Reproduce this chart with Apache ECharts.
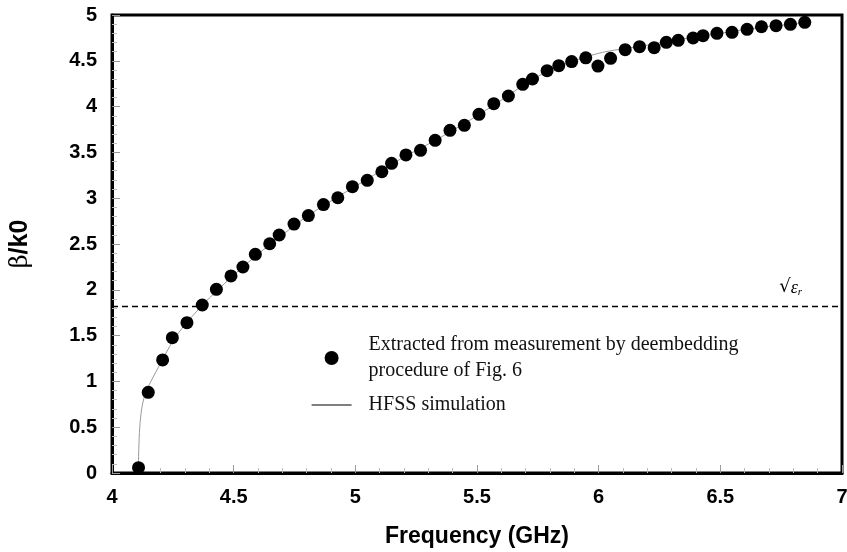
<!DOCTYPE html>
<html>
<head>
<meta charset="utf-8">
<script src="https://cdn.jsdelivr.net/npm/echarts@6/dist/echarts.min.js"></script>
<style>
  html, body { margin: 0; padding: 0; background: #fff; }
  #chart { width: 847px; height: 552px; }
</style>
</head>
<body>
<div id="chart"></div>
<script>
// measured beta/k0 (extracted by deembedding)
const freqMeas = [4.109, 4.149, 4.208, 4.248, 4.308, 4.371, 4.429, 4.489, 4.538, 4.589,
  4.648, 4.687, 4.748, 4.807, 4.869, 4.928, 4.988, 5.049, 5.109, 5.149,
  5.208, 5.268, 5.328, 5.389, 5.448, 5.508, 5.569, 5.629, 5.688, 5.728,
  5.788, 5.836, 5.889, 5.947, 5.997, 6.049, 6.109, 6.168, 6.228, 6.278,
  6.327, 6.388, 6.429, 6.486, 6.548, 6.610, 6.669, 6.729, 6.788, 6.847];
const betaMeas = [0.058, 0.881, 1.234, 1.477, 1.641, 1.834, 2.005, 2.151, 2.249, 2.387,
  2.503, 2.598, 2.718, 2.810, 2.930, 3.005, 3.126, 3.195, 3.289, 3.381,
  3.472, 3.523, 3.632, 3.741, 3.796, 3.916, 4.032, 4.116, 4.243, 4.301,
  4.392, 4.447, 4.492, 4.532, 4.442, 4.527, 4.621, 4.654, 4.643, 4.702,
  4.724, 4.749, 4.774, 4.800, 4.811, 4.844, 4.872, 4.883, 4.898, 4.920];

// HFSS simulation curve
const freqSim = [4.108, 4.110, 4.114, 4.122, 4.135, 4.16, 4.2, 4.25, 4.3, 4.35,
  4.4, 4.5, 4.6, 4.7, 4.8, 4.9, 5.0, 5.1, 5.2, 5.3,
  5.4, 5.5, 5.6, 5.7, 5.8, 5.9, 5.97, 6.03, 6.1, 6.2,
  6.3, 6.4, 6.5, 6.6, 6.7, 6.8, 6.86];
const betaSim = [0, 0.25, 0.5, 0.7, 0.85, 1.0, 1.2, 1.44, 1.62, 1.77,
  1.91, 2.16, 2.39, 2.6, 2.8, 2.97, 3.13, 3.29, 3.45, 3.59,
  3.74, 3.9, 4.07, 4.25, 4.4, 4.5, 4.56, 4.6, 4.63, 4.67,
  4.72, 4.76, 4.8, 4.84, 4.875, 4.9, 4.92];

const sqrtEr = 1.823;

const measName = "Extracted from measurement by deembedding\nprocedure of Fig. 6";
const simName = "HFSS simulation";

const chart = echarts.init(document.getElementById("chart"));

const tickFont = {
  fontFamily: "Liberation Sans",
  fontWeight: "bold",
  fontSize: 20,
  color: "#000"
};

chart.setOption({
  animation: false,
  grid: {
    left: 112,
    right: 5,
    top: 15,
    bottom: 79,
    outerBoundsMode: "none",
    show: true,
    borderColor: "#000",
    borderWidth: 3
  },
  legend: {
    orient: "vertical",
    left: 306,
    top: 327,
    itemWidth: 40,
    itemHeight: 14,
    itemGap: 8,
    lineStyle: { color: "#000", width: 1.2 },
    textStyle: {
      fontFamily: "Liberation Serif",
      fontSize: 20,
      lineHeight: 26,
      color: "#111",
      padding: [0, 0, 0, 12]
    },
    data: [
      { name: measName, icon: "circle", itemStyle: { color: "#000", opacity: 1 } },
      { name: simName, itemStyle: { opacity: 0 }, lineStyle: { color: "#000", width: 1.2 } }
    ]
  },
  xAxis: {
    type: "value",
    min: 4,
    max: 7,
    interval: 0.5,
    name: "Frequency (GHz)",
    nameLocation: "middle",
    nameGap: 52,
    nameTextStyle: {
      fontFamily: "Liberation Sans",
      fontWeight: "bold",
      fontSize: 23,
      color: "#000"
    },
    axisLine: { show: true, onZero: false, lineStyle: { color: "#000", width: 3 } },
    axisTick: { inside: true, length: 8, lineStyle: { color: "#999", width: 1 } },
    minorTick: { show: true, splitNumber: 5, length: 5, lineStyle: { color: "#bbb", width: 1 } },
    splitLine: { show: false },
    axisLabel: Object.assign({ margin: 14 }, tickFont)
  },
  yAxis: {
    type: "value",
    min: 0,
    max: 5,
    interval: 0.5,
    name: "{b|\u03b2}{k|/k0}",
    nameLocation: "middle",
    nameGap: 79,
    nameTextStyle: {
      color: "#000",
      rich: {
        b: { fontFamily: "DejaVu Serif", fontSize: 24, color: "#000" },
        k: { fontFamily: "Liberation Sans", fontWeight: "bold", fontSize: 25, color: "#000" }
      }
    },
    axisLine: { show: true, onZero: false, lineStyle: { color: "#000", width: 3 } },
    axisTick: { inside: true, length: 8, lineStyle: { color: "#999", width: 1 } },
    minorTick: { show: true, splitNumber: 5, length: 5, lineStyle: { color: "#bbb", width: 1 } },
    splitLine: { show: false },
    axisLabel: Object.assign({ margin: 15 }, tickFont)
  },
  series: [
    {
      name: simName,
      type: "line",
      data: freqSim.map((f, i) => [f, betaSim[i]]),
      showSymbol: false,
      symbol: "none",
      smooth: 0.3,
      lineStyle: { color: "#999", width: 1 },
      z: 2,
      markLine: {
        silent: true,
        symbol: "none",
        lineStyle: { color: "#000", width: 1.3, type: [6, 4] },
        label: {
          show: true,
          position: "insideEndTop",
          distance: [40, 9],
          formatter: "{sq|\u221a}{ep|\u03b5}{sub|r}",
          rich: {
            sq: { fontFamily: "DejaVu Serif", fontSize: 18, color: "#000" },
            ep: { fontFamily: "Liberation Serif", fontStyle: "italic", fontSize: 18, color: "#000" },
            sub: { fontFamily: "Liberation Serif", fontStyle: "italic", fontSize: 11, color: "#000", verticalAlign: "bottom", padding: [8, 0, 0, 0] }
          }
        },
        data: [{ yAxis: sqrtEr }]
      }
    },
    {
      name: measName,
      type: "scatter",
      data: freqMeas.map((f, i) => [f, betaMeas[i]]),
      symbol: "circle",
      symbolSize: 13,
      itemStyle: { color: "#000", opacity: 1 },
      z: 3
    }
  ]
});
</script>
</body>
</html>
